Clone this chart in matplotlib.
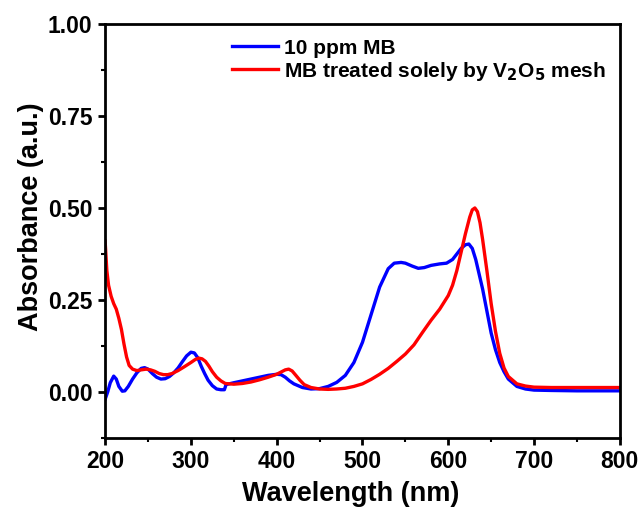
import matplotlib.pyplot as plt

plt.rcParams['font.family'] = 'Liberation Sans'
plt.rcParams['font.weight'] = 'bold'
plt.rcParams['mathtext.default'] = 'bf'

# 10 ppm MB
wl_blue = [200, 203, 206, 210, 213, 216, 220, 223, 227, 232, 237, 242, 246, 250, 255, 260, 265, 270, 275,
           280, 285, 290, 295, 300, 304, 308, 312, 316, 320, 325, 330, 335, 339, 341, 350, 360, 370, 380,
           390, 400, 405, 410, 415, 420, 430, 440, 450, 460, 470, 480, 490, 500, 510, 520, 530, 537, 545,
           550, 558, 565, 572, 580, 590, 598, 605, 610, 615, 620, 624, 628, 632, 636, 640, 645, 650, 655,
           660, 665, 670, 680, 690, 700, 720, 750, 780, 800]
abs_blue = [-0.02, 0.0, 0.025, 0.043, 0.035, 0.015, 0.002, 0.003, 0.015, 0.035, 0.052, 0.064, 0.066, 0.062,
            0.05, 0.04, 0.035, 0.036, 0.042, 0.052, 0.065, 0.082, 0.098, 0.108, 0.106, 0.093, 0.07, 0.05,
            0.032, 0.017, 0.008, 0.006, 0.006, 0.02, 0.025, 0.03, 0.035, 0.04, 0.045, 0.048, 0.047, 0.04,
            0.03, 0.022, 0.012, 0.008, 0.009, 0.015, 0.026, 0.045, 0.08, 0.135, 0.21, 0.285, 0.335, 0.35,
            0.352, 0.35, 0.342, 0.336, 0.338, 0.344, 0.348, 0.35, 0.36, 0.375, 0.39, 0.4, 0.402, 0.39, 0.36,
            0.32, 0.28, 0.22, 0.16, 0.115, 0.08, 0.055, 0.035, 0.015, 0.008, 0.005, 0.004, 0.003, 0.003, 0.003]

# MB treated solely by V2O5 mesh
wl_red = [200, 202, 204, 207, 210, 213, 216, 219, 222, 225, 228, 232, 237, 242, 248, 253, 258, 263, 268,
          273, 278, 285, 292, 300, 305, 309, 313, 317, 321, 325, 330, 335, 340, 350, 360, 370, 380, 390,
          400, 405, 410, 414, 418, 422, 427, 432, 440, 450, 460, 470, 480, 490, 500, 510, 520, 530, 540,
          550, 560, 570, 580, 590, 600, 605, 610, 615, 620, 625, 628, 631, 634, 637, 640, 645, 650, 655,
          660, 665, 670, 680, 690, 700, 720, 750, 780, 800]
abs_red = [0.41, 0.33, 0.29, 0.26, 0.24, 0.225, 0.2, 0.17, 0.13, 0.095, 0.072, 0.062, 0.058, 0.06, 0.062,
           0.06, 0.056, 0.05, 0.047, 0.047, 0.05, 0.058, 0.068, 0.08, 0.088, 0.092, 0.09, 0.083, 0.07, 0.055,
           0.04, 0.03, 0.023, 0.021, 0.023, 0.027, 0.033, 0.04, 0.048, 0.054, 0.06, 0.062, 0.057, 0.046,
           0.032, 0.02, 0.012, 0.008, 0.007, 0.008, 0.01, 0.015, 0.022, 0.034, 0.048, 0.064, 0.083, 0.103,
           0.128, 0.162, 0.195, 0.225, 0.262, 0.29, 0.33, 0.38, 0.43, 0.475, 0.495, 0.5, 0.49, 0.46, 0.415,
           0.33, 0.24, 0.165, 0.105, 0.065, 0.042, 0.022, 0.016, 0.013, 0.012, 0.012, 0.012, 0.012]

fig = plt.figure(figsize=(6.41, 5.11), dpi=100)
ax = fig.add_axes([0.164, 0.143, 0.803, 0.810])

ax.plot(wl_blue, abs_blue, color='#0000ff', lw=2.4, label='10 ppm MB')
ax.plot(wl_red, abs_red, color='#ff0000', lw=2.4, label='MB treated solely by V$_\\mathbf{2}$O$_\\mathbf{5}$ mesh')

ax.set_xlim(200, 800)
ax.set_ylim(-0.1, 1.0)
ax.set_xticks([200, 300, 400, 500, 600, 700, 800])
ax.set_xticks(range(250, 800, 100), minor=True)
ax.set_yticks([0.0, 0.25, 0.5, 0.75, 1.0])
ax.set_yticks([-0.125, 0.125, 0.375, 0.625, 0.875], minor=True)
ax.set_yticklabels(['0.00', '0.25', '0.50', '0.75', '1.00'])
ax.tick_params(which='major', direction='out', length=5, width=2, labelsize=16.5, pad=4)
ax.tick_params(which='minor', direction='out', length=3, width=1.5)
for s in ax.spines.values():
    s.set_linewidth(2)

ax.set_xlabel('Wavelength (nm)', fontsize=19.5, fontweight='bold', labelpad=1)
ax.set_ylabel('Absorbance (a.u.)', fontsize=19.5, fontweight='bold', labelpad=3)
ax.xaxis.set_label_coords(0.477, -0.105)
ax.yaxis.label.set_y(0.534)

leg = ax.legend(loc='upper left', bbox_to_anchor=(0.23, 0.985), frameon=False, fontsize=15,
                handlelength=2.2, handletextpad=0.3, labelspacing=0.1, borderaxespad=0)

fig.savefig('out.png', dpi=100)
